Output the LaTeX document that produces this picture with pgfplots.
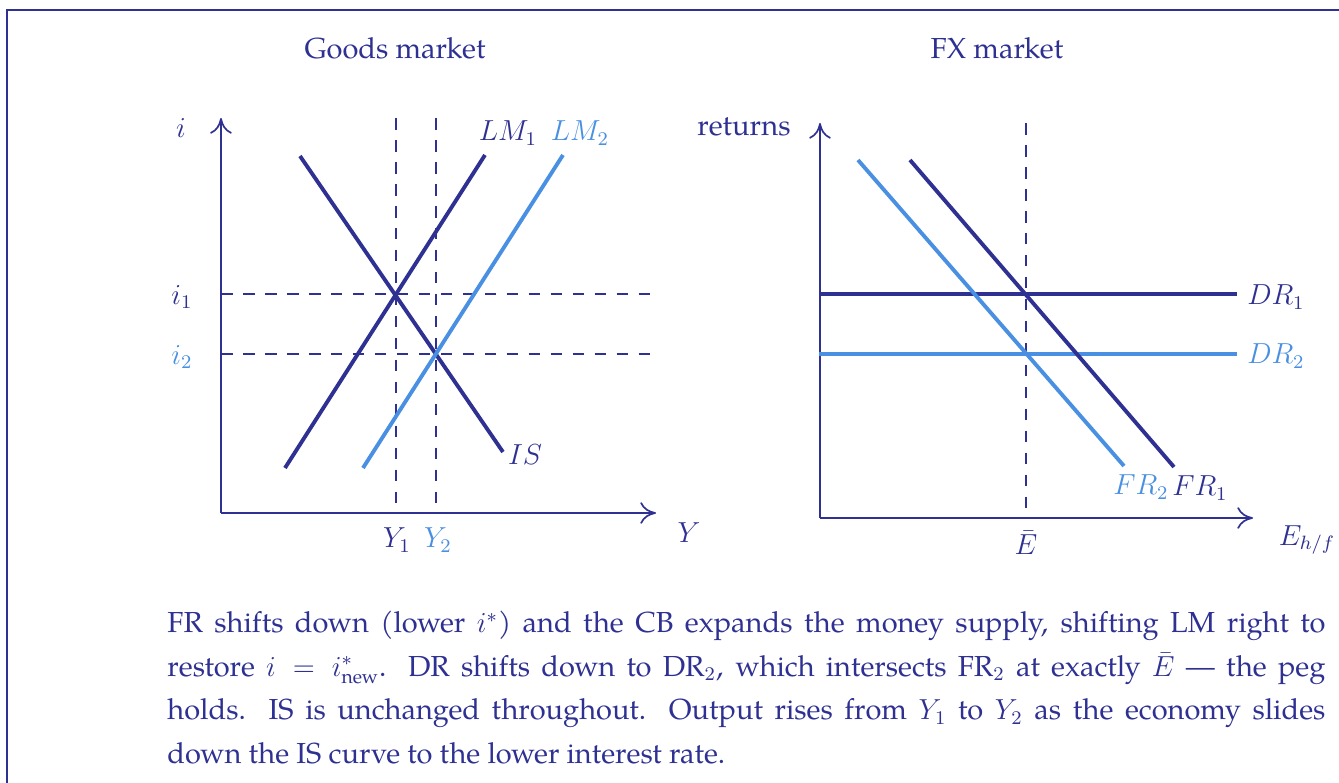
\documentclass[border=0pt]{standalone}
\usepackage{amsmath}
\usepackage{pgfplots}
\pgfplotsset{compat=1.18}
\usepackage{fontspec}
\setmainfont{TeX Gyre Pagella}
\usetikzlibrary{arrows.meta}
\definecolor{navy}{RGB}{46,49,146}
\definecolor{lb}{RGB}{74,144,226}
\pgfplotsset{
  panel/.style={
    anchor=south west, x=0.414pt, y=0.414pt,
    xmin=0, ymin=0, ymax=395, enlargelimits=false,
    axis lines=left,
    axis line style={navy, line width=0.7pt, -{To[length=6.5pt,width=9pt]}},
    xtick=\empty, ytick=\empty, clip=false,
  },
  dsh/.style={navy, line width=0.8pt, dash pattern=on 4.8pt off 4.3pt},
  crv/.style={line width=1.6pt},
}
\begin{document}
\begin{tikzpicture}[font=\fontsize{12}{18}\selectfont]
\useasboundingbox (0,0) rectangle (554.35pt,-324.16pt);
\draw[navy, line width=0.5pt] (2.9pt,-4.14pt) rectangle (570pt,-340pt);
\node[navy, anchor=base] at (163.53pt,-24.14pt) {Goods market};
\node[navy, anchor=base] at (412.76pt,-24.14pt) {FX market};

\begin{axis}[panel, at={(91.49pt,-212.38pt)}, xmax=435]
\addplot[dsh] coordinates {(0,219) (435,219)};
\addplot[dsh] coordinates {(0,159) (435,159)};
\addplot[dsh] coordinates {(175,395) (175,0)};
\addplot[dsh] coordinates {(215,395) (215,0)};
\addplot[crv, navy] coordinates {(79,357) (282,61)};
\addplot[crv, navy] coordinates {(64,45) (264,358)};
\addplot[crv, lb] coordinates {(142,45) (342,358)};
\node[navy] at (axis cs:468,-20) {$Y$};
\node[navy] at (axis cs:-40,385) {$i$};
\node[navy] at (axis cs:-39,216) {$i_1$};
\node[lb] at (axis cs:-39,156) {$i_2$};
\node[navy] at (axis cs:176,-27) {$Y_1$};
\node[lb] at (axis cs:217,-27) {$Y_2$};
\node[navy] at (axis cs:287,380) {$LM_1$};
\node[lb] at (axis cs:359,380) {$LM_2$};
\node[navy] at (axis cs:304,58) {$IS$};
\end{axis}

\begin{axis}[panel, at={(339.48pt,-214.45pt)}, xmax=433]
\addplot[dsh] coordinates {(206,395) (206,0)};
\addplot[crv, navy] coordinates {(-1,224) (417,224)};
\addplot[crv, lb] coordinates {(-1,164) (417,164)};
\addplot[crv, navy] coordinates {(90,358) (354,51)};
\addplot[crv, lb] coordinates {(38,358) (304,52)};
\node[navy] at (axis cs:-76,391) {returns};
\node[navy] at (axis cs:206,-25) {$\bar{E}$};
\node[navy] at (axis cs:487,-22) {$E_{h/f}$};
\node[navy] at (axis cs:456,221) {$DR_1$};
\node[lb] at (axis cs:456,162) {$DR_2$};
\node[lb] at (axis cs:321,31) {$FR_2$};
\node[navy] at (axis cs:380,30) {$FR_1$};
\end{axis}

\node[navy, anchor=base west, text width=479.4pt, align=justify, inner sep=0pt] at (69.14pt,-262.06pt)
{FR shifts down (lower $i^*$) and the CB expands the money supply, shifting LM right to\linebreak
restore $i = i^*_{\text{new}}$. DR shifts down to DR$_2$, which intersects FR$_2$ at exactly $\bar{E}$ --- the peg\linebreak
holds. IS is unchanged throughout. Output rises from $Y_1$ to $Y_2$ as the economy slides\linebreak
down the IS curve to the lower interest rate.};
\end{tikzpicture}
\end{document}
